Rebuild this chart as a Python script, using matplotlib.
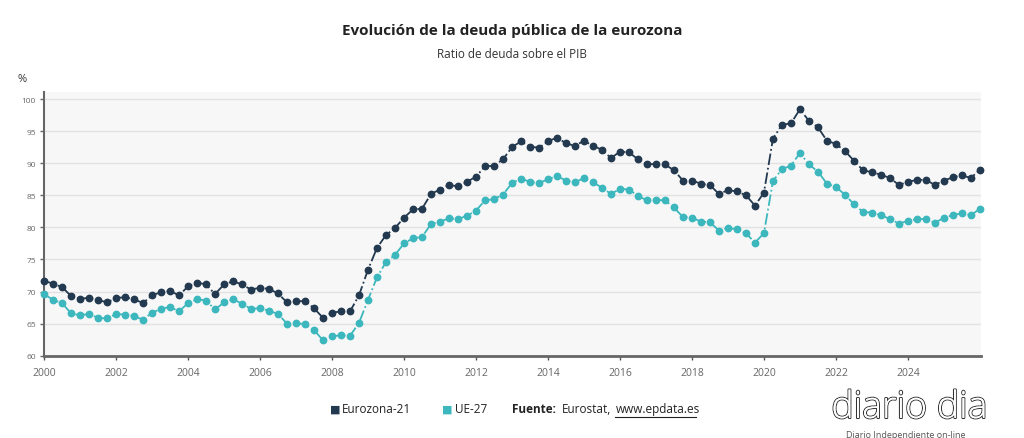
import numpy as np
import matplotlib.pyplot as plt
import matplotlib.patheffects as pe

plt.rcParams['font.family'] = ['Open Sans', 'DejaVu Sans']

# quarterly series, first point plotted at 2000.0, one point per quarter
start_year = 2000
eurozona = [71.7, 71.2, 70.7, 69.3, 68.9, 69.0, 68.7, 68.3, 69.0, 69.1,
            68.8, 68.2, 69.4, 69.9, 70.1, 69.4, 70.8, 71.4, 71.1, 69.6,
            71.1, 71.6, 71.1, 70.3, 70.6, 70.4, 69.7, 68.3, 68.5, 68.5,
            67.4, 65.9, 66.7, 66.9, 66.9, 69.4, 73.4, 76.8, 78.8, 79.9,
            81.5, 82.8, 82.9, 85.2, 85.9, 86.6, 86.4, 87.1, 87.9, 89.5,
            89.6, 90.6, 92.5, 93.4, 92.6, 92.4, 93.4, 94.0, 93.1, 92.7,
            93.5, 92.7, 92.1, 90.8, 91.8, 91.7, 90.6, 89.8, 89.9, 89.8,
            88.9, 87.3, 87.3, 86.8, 86.6, 85.2, 85.8, 85.6, 85.0, 83.4,
            85.4, 93.8, 96.0, 96.2, 98.4, 96.6, 95.6, 93.5, 93.0, 91.9,
            90.4, 88.9, 88.6, 88.2, 87.7, 86.6, 87.1, 87.4, 87.4, 86.6,
            87.3, 87.8, 88.1, 87.7, 89.0]
ue27 = [69.6, 68.7, 68.2, 66.6, 66.3, 66.5, 65.9, 65.8, 66.5, 66.4,
        66.2, 65.6, 66.7, 67.3, 67.6, 66.9, 68.2, 68.8, 68.6, 67.2,
        68.3, 68.8, 68.1, 67.3, 67.4, 67.0, 66.5, 65.0, 65.1, 64.9,
        64.0, 62.4, 63.0, 63.2, 63.1, 65.1, 68.7, 72.2, 74.6, 75.7,
        77.5, 78.3, 78.5, 80.5, 80.9, 81.4, 81.3, 81.8, 82.6, 84.2,
        84.4, 85.1, 86.9, 87.6, 87.1, 86.9, 87.5, 88.0, 87.3, 87.0,
        87.7, 87.0, 86.2, 85.2, 86.0, 85.9, 84.9, 84.2, 84.3, 84.2,
        83.1, 81.6, 81.5, 80.9, 80.8, 79.5, 79.9, 79.7, 79.1, 77.6,
        79.1, 87.2, 89.1, 89.6, 91.6, 89.8, 88.7, 86.8, 86.3, 85.1,
        83.6, 82.4, 82.3, 81.9, 81.3, 80.6, 81.0, 81.3, 81.3, 80.7,
        81.5, 81.9, 82.2, 81.9, 82.9]
x_ticks = list(range(2000, 2025, 2))
y_ticks = list(range(60, 101, 5))

c_euro = '#22394f'
c_ue = '#3cb7bd'

fechas = start_year + np.arange(len(eurozona)) / 4

fig = plt.figure(figsize=(10.24, 4.39), dpi=100)
ax = fig.add_axes([0.043, 0.1875, 0.915, 0.6007])
ax.set_facecolor('#f7f7f7')

ax.plot(fechas, ue27, '-.', color=c_ue, lw=1.3, marker='o', ms=4.6,
        clip_on=False, zorder=3)
ax.plot(fechas, eurozona, '-.', color=c_euro, lw=1.3, marker='o', ms=4.6,
        clip_on=False, zorder=4)

ax.set_xlim(2000, 2026.03)
ax.set_ylim(60, 101.1)
ax.set_yticks(y_ticks)
ax.set_xticks(x_ticks)
ax.tick_params(axis='y', labelsize=6, colors='#666666', length=3, width=1, pad=3)
ax.tick_params(axis='x', labelsize=7.5, colors='#555555', length=3, width=1, pad=5)
for lab in ax.get_yticklabels() + ax.get_xticklabels():
    lab.set_color('#666666')
ax.grid(axis='y', color='#e2e2e2', lw=1)
ax.set_axisbelow(True)
for s in ['top', 'right']:
    ax.spines[s].set_visible(False)
ax.spines['left'].set_color('#666666')
ax.spines['left'].set_linewidth(1.5)
ax.spines['bottom'].set_color('#666666')
ax.spines['bottom'].set_linewidth(2)

# titles
fig.text(0.5, 0.93, 'Evolución de la deuda pública de la eurozona', ha='center',
         va='center', fontsize=11, fontweight='bold', color='#222222')
fig.text(0.5, 0.875, 'Ratio de deuda sobre el PIB', ha='center', va='center',
         fontsize=8.5, color='#333333')
fig.text(0.017, 0.82, '%', fontsize=8, color='#333333', va='center')

# legend row
ly = 1 - 410 / 439
fig.text(0.322, ly, '■', color=c_euro, fontsize=8, va='center')
fig.text(0.334, ly, 'Eurozona-21', color='#222222', fontsize=8.5, va='center')
fig.text(0.432, ly, '■', color=c_ue, fontsize=8, va='center')
fig.text(0.444, ly, 'UE-27', color='#222222', fontsize=8.5, va='center')
fig.text(0.5, ly, 'Fuente:', fontweight='bold', color='#222222',
         fontsize=8.5, va='center')
fig.text(0.549, ly, 'Eurostat,', color='#222222', fontsize=8.5, va='center')
fig.text(0.601, ly, 'www.epdata.es', color='#222222', fontsize=8.5,
         va='center')
fig.add_artist(plt.Line2D([0.601, 0.680], [ly - 0.018, ly - 0.018],
                          color='#222222', lw=0.8))

# watermark
wm = fig.text(0.888, 1 - 419 / 439, 'diario dia', fontsize=27, color='white',
              ha='center', va='baseline', fontweight='light')
wm.set_path_effects([pe.withStroke(linewidth=1.5, foreground='#333333'),
                     pe.Normal()])
fig.text(0.885, 0.008, 'Diario Independiente on-line', fontsize=6.5,
         color='#555555', ha='center', va='center')

fig.savefig('out.png', dpi=100)
